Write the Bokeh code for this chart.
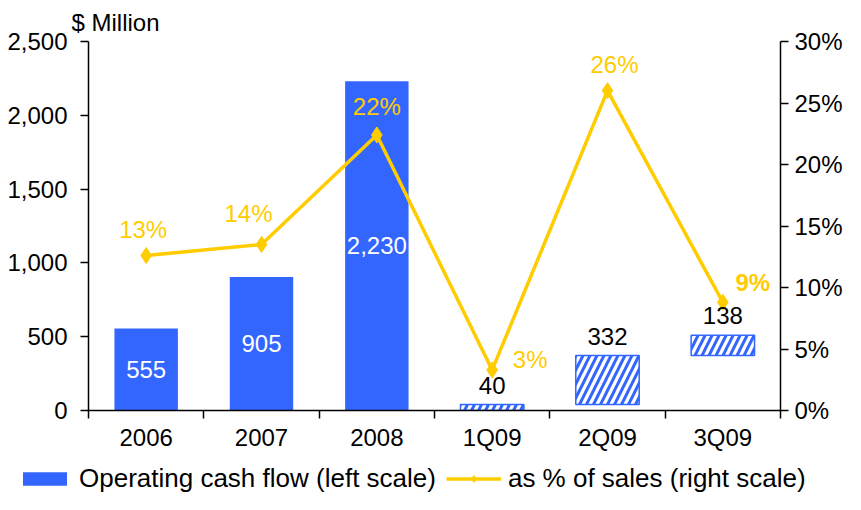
from bokeh.plotting import figure
from bokeh.layouts import column
from bokeh.models import (Range1d, LinearAxis, FixedTicker, NumeralTickFormatter,
                          PrintfTickFormatter, ColumnDataSource, Legend, LegendItem, Title)
from bokeh.core.properties import value
from bokeh.embed import file_html
from bokeh.resources import INLINE

# ---------------- data ----------------
categories = ["2006", "2007", "2008", "1Q09", "2Q09", "3Q09"]
cash_flow = [555, 905, 2230, 40, 332, 138]
is_quarter = [False, False, False, True, True, True]
cash_labels = ["555", "905", "2,230", "40", "332", "138"]
pct_of_sales = [12.6, 13.5, 22.4, 3.3, 26.0, 8.8]
pct_labels = ["13%", "14%", "22%", "3%", "26%", "9%"]
left_ticks = [0, 500, 1000, 1500, 2000, 2500]
right_ticks = [0, 5, 10, 15, 20, 25, 30]

# ---------------- style ----------------
BLUE = "#3366FF"
YELLOW = "#FFCC00"
FONT = "Liberation Sans"
FS = "24px"
LEG_FS = "26px"
pct_dx = [-3, -13, 0, 38, 7, 30]
pct_dy = [-26, -31, -28, -10, -26, -20]
pct_style = ["normal", "normal", "normal", "normal", "normal", "bold"]
BAR_W = 0.55

n = len(categories)
xc = [i + 0.5 for i in range(n)]

# annual bars start at 0, quarterly bars are stacked cumulatively
bottoms, run = [], 0
for v, q in zip(cash_flow, is_quarter):
    if q:
        bottoms.append(run)
        run += v
    else:
        bottoms.append(0)
tops = [b + v for b, v in zip(bottoms, cash_flow)]
mids = [(b + t) / 2 for b, t in zip(bottoms, tops)]

ann = [i for i in range(n) if not is_quarter[i]]
qtr = [i for i in range(n) if is_quarter[i]]

ann_src = ColumnDataSource(dict(x=[xc[i] for i in ann], top=[tops[i] for i in ann],
                                bottom=[bottoms[i] for i in ann], mid=[mids[i] for i in ann],
                                lab=[cash_labels[i] for i in ann]))
qtr_src = ColumnDataSource(dict(x=[xc[i] for i in qtr], top=[tops[i] for i in qtr],
                                bottom=[bottoms[i] for i in qtr],
                                lab=[cash_labels[i] for i in qtr]))
pct_src = ColumnDataSource(dict(x=xc, y=pct_of_sales, lab=pct_labels,
                                dx=pct_dx, dy=pct_dy, st=pct_style))

p = figure(width=845, height=454, x_range=Range1d(0, n), y_range=Range1d(0, 2500),
           output_backend="svg", toolbar_location=None,
           x_axis_location=None, y_axis_location=None,
           min_border_left=88, min_border_right=64, min_border_top=40, min_border_bottom=44)
p.frame_align = False
p.outline_line_color = None
p.background_fill_color = "white"
p.xgrid.visible = False
p.ygrid.visible = False
p.extra_y_ranges = {"pct": Range1d(0, 30)}


def style_axis(ax):
    ax.axis_line_width = 1.5
    ax.axis_line_color = "black"
    ax.major_tick_line_width = 1.5
    ax.major_tick_line_color = "black"
    ax.major_tick_in = 0
    ax.major_tick_out = 8
    ax.minor_tick_line_color = None
    ax.major_label_text_font = FONT
    ax.major_label_text_font_size = FS
    ax.major_label_text_color = "black"


left = LinearAxis(ticker=FixedTicker(ticks=left_ticks), formatter=NumeralTickFormatter(format="0,0"))
style_axis(left)
left.major_label_standoff = 13
p.add_layout(left, "left")

right = LinearAxis(y_range_name="pct", ticker=FixedTicker(ticks=right_ticks),
                   formatter=PrintfTickFormatter(format="%d%%"))
style_axis(right)
right.major_label_standoff = 6
p.add_layout(right, "right")

# x axis: ticks on category boundaries
xticks = LinearAxis(ticker=FixedTicker(ticks=list(range(n + 1))),
                    major_label_overrides={i: "" for i in range(n + 1)})
style_axis(xticks)
xticks.major_label_text_font_size = "1px"
xticks.major_label_standoff = 0
p.add_layout(xticks, "below")

# x axis: category labels at centers
xlabels = LinearAxis(ticker=FixedTicker(ticks=xc),
                     major_label_overrides={x: c for x, c in zip(xc, categories)})
style_axis(xlabels)
xlabels.axis_line_color = None
xlabels.major_tick_out = 0
xlabels.major_label_standoff = 5
p.add_layout(xlabels, "below")

# bars
p.vbar(x="x", top="top", bottom="bottom", width=BAR_W, source=ann_src,
       fill_color=BLUE, line_color=None)
p.vbar(x="x", top="top", bottom="bottom", width=BAR_W, source=qtr_src,
       fill_color="white", line_color=BLUE, line_width=1.5,
       hatch_pattern="/", hatch_color=BLUE, hatch_scale=14, hatch_weight=3)

# line
p.line(x="x", y="y", source=pct_src, y_range_name="pct", line_color=YELLOW, line_width=3.5)
p.scatter(x="x", y="y", source=pct_src, y_range_name="pct", marker="diamond",
          size=16, fill_color=YELLOW, line_color=YELLOW)

# value labels
p.text(x="x", y="mid", text="lab", source=ann_src, text_color="white",
       text_font=value(FONT), text_font_size=FS, text_align="center", text_baseline="middle")
p.text(x="x", y="top", text="lab", source=qtr_src, text_color="black",
       text_font=value(FONT), text_font_size=FS, text_align="center", text_baseline="bottom",
       y_offset=-11)
p.text(x="x", y="y", text="lab", source=pct_src, y_range_name="pct", text_color=YELLOW,
       text_font=value(FONT), text_font_size=FS, text_align="center", text_baseline="middle",
       x_offset="dx", y_offset="dy", text_font_style="st")

# unit label
p.add_layout(Title(text="$ Million", align="left", offset=-17, standoff=12,
                   text_font=FONT, text_font_size=FS, text_font_style="normal",
                   text_color="black"), "above")

# ---------------- legend strip (its glyphs lie outside its visible ranges) ----------------
lg = figure(width=845, height=40, x_range=Range1d(-20, -19), y_range=Range1d(-20, -19),
            output_backend="svg", toolbar_location=None,
            x_axis_location=None, y_axis_location=None,
            min_border_left=0, min_border_right=0, min_border_top=0, min_border_bottom=0)
lg.frame_align = False
lg.outline_line_color = None
lg.xgrid.visible = False
lg.ygrid.visible = False
r_bar = lg.vbar(x=xc, top=cash_flow, width=BAR_W, fill_color=BLUE, line_color=None)
r_ln = lg.line(x=xc, y=pct_of_sales, line_color=YELLOW, line_width=3.5)
r_pt = lg.scatter(x=xc, y=pct_of_sales, marker="diamond", size=16,
                  fill_color=YELLOW, line_color=YELLOW)

legend = Legend(items=[LegendItem(label="Operating cash flow (left scale)", renderers=[r_bar]),
                       LegendItem(label="as % of sales (right scale)", renderers=[r_ln, r_pt])],
                location=(17, 0), orientation="horizontal",
                glyph_width=55, glyph_height=17, label_standoff=7, spacing=10,
                padding=0, margin=0, border_line_color=None, background_fill_alpha=0,
                label_text_font=FONT, label_text_font_size=LEG_FS, label_text_color="black")
lg.add_layout(legend)

layout = column(p, lg, spacing=0)
open("out.html", "w").write(file_html(layout, INLINE))
